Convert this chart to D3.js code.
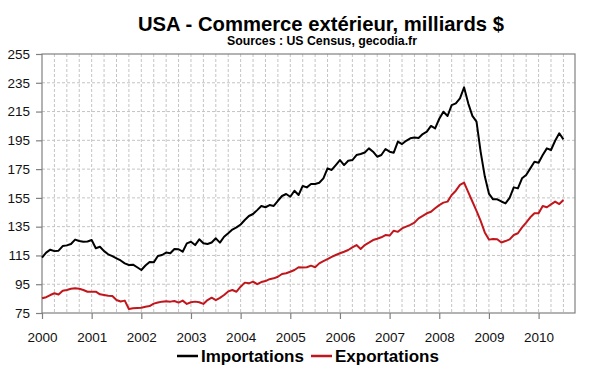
<!DOCTYPE html>
<html>
<head>
<meta charset="utf-8">
<script src="https://cdn.jsdelivr.net/npm/d3@7"></script>
<style>
body { margin: 0; background: #fff; }
svg { display: block; font-family: "Liberation Sans", Arial, sans-serif; }
</style>
</head>
<body>
<div id="chart"></div>
<script>
// monthly values, Jan 2000 .. Jul 2010 (billions $)
var importsData = [113.5, 117, 119, 118, 118.3, 121.5, 122, 123, 126, 125, 124.5, 124.7,
  125.7, 120, 121, 118, 115.8, 114.5, 113, 111.5, 109.5, 108.4, 108.6, 106.8,
  104.9, 108, 110.5, 110.2, 114.6, 115.3, 117, 116.5, 119.5, 119.3, 117.6, 123.4,
  124.5, 122.2, 126.2, 123.5, 123, 124, 126.9, 123.9, 128, 130.4, 133, 134.5,
  136.5, 139.6, 142.4, 143.8, 146.5, 149.4, 148.5, 150, 149.4, 153, 156.3, 157.7,
  155.8, 160, 157, 163.3, 162.3, 164.6, 164.6, 165.5, 168.6, 175.5, 174.4, 177.8,
  181.3, 177.8, 180.8, 181.3, 184.8, 185.5, 186.5, 189.4, 187.1, 183.6, 184.8, 189,
  187.1, 186.4, 194.1, 192.4, 194.7, 196.4, 197, 196.6, 199.4, 201, 205, 203.3,
  210, 214.9, 211.9, 219.5, 220.7, 224.2, 231.8, 220.7, 212, 208, 187, 170,
  158, 154, 154, 152.5, 151.2, 155, 162.3, 161.6, 168.6, 170.9, 175.5, 180.1,
  179.4, 184.8, 189.4, 188.3, 194.7, 199.9, 195.7];
var exportsData = [85.2, 86, 87.5, 88.7, 87.9, 90.5, 91, 91.8, 92.2, 91.8, 91, 89.8,
  89.8, 89.8, 88, 87.5, 87, 86.8, 84, 83, 83.6, 77.8, 78.3, 78.5,
  78.7, 79.4, 79.8, 81.5, 82.3, 82.9, 83.2, 82.9, 83.3, 82.2, 83.6, 81.3,
  82.5, 82.9, 82.5, 81.3, 84, 85.6, 84, 85.5, 87.5, 90, 91, 89.8,
  93.3, 96.1, 95.6, 96.8, 95, 96.5, 97.2, 98.5, 99.1, 100.2, 102.1, 102.6,
  103.7, 104.9, 106.8, 106.6, 106.8, 107.9, 106.8, 109.5, 111, 112.5, 114, 115.3,
  116.5, 117.6, 118.8, 120.6, 122.2, 119.5, 122.2, 123.9, 125.7, 126.6, 127.6, 129.2,
  128.8, 132.2, 131.4, 133.8, 135, 136.2, 137.8, 140.8, 142.5, 144.3, 145.4, 147.8,
  150, 151.7, 152.4, 157, 160, 164, 165.6, 159, 152.5, 146, 139, 131,
  126, 126.5, 126.2, 124, 125, 126.2, 129.2, 130.4, 134.5, 137.8, 141.5, 144.3,
  144.3, 149.4, 148.5, 150.5, 152.4, 150.7, 153.5];
var years = [2000, 2001, 2002, 2003, 2004, 2005, 2006, 2007, 2008, 2009, 2010];
var yTicks = [75, 95, 115, 135, 155, 175, 195, 215, 235, 255];
var seriesNames = ["Importations", "Exportations"];
var seriesColors = ["#000000", "#c0161c"];

var W = 600, H = 372;
var pL = 42, pR = 575, pT = 54, pB = 313;

var svg = d3.select("#chart").append("svg")
  .attr("width", W).attr("height", H);

var x = d3.scaleLinear().domain([0, 128.8]).range([pL, pR]);
var y = d3.scaleLinear().domain([75, 255]).range([pB, pT]);

// title
svg.append("text")
  .attr("x", 321).attr("y", 31)
  .attr("text-anchor", "middle")
  .attr("font-size", 21).attr("font-weight", "bold")
  .attr("textLength", 366).attr("lengthAdjust", "spacingAndGlyphs")
  .text("USA - Commerce extérieur, milliards $");
svg.append("text")
  .attr("x", 322).attr("y", 45)
  .attr("text-anchor", "middle")
  .attr("font-size", 12).attr("font-weight", "bold")
  .attr("textLength", 190).attr("lengthAdjust", "spacingAndGlyphs")
  .text("Sources : US Census, gecodia.fr");

// grid
var quarters = d3.range(3, 127, 3);
svg.append("g").selectAll("line")
  .data(quarters)
  .enter().append("line")
  .attr("x1", function(d) { return x(d); })
  .attr("x2", function(d) { return x(d); })
  .attr("y1", pT).attr("y2", pB)
  .attr("stroke", "#c4c4c4").attr("stroke-dasharray", "3,2");
svg.append("g").selectAll("line")
  .data(yTicks.slice(1, -1))
  .enter().append("line")
  .attr("x1", pL).attr("x2", pR)
  .attr("y1", function(d) { return y(d); })
  .attr("y2", function(d) { return y(d); })
  .attr("stroke", "#c4c4c4").attr("stroke-dasharray", "3,2");

svg.append("rect")
  .attr("x", pL).attr("y", pT)
  .attr("width", pR - pL).attr("height", pB - pT)
  .attr("fill", "none").attr("stroke", "#808080").attr("stroke-width", 1.2);

// axes
var yAxis = svg.append("g")
  .attr("transform", "translate(" + pL + ",0)")
  .call(d3.axisLeft(y).tickValues(yTicks).tickSize(6).tickPadding(6).tickFormat(d3.format("d")));
var xAxis = svg.append("g")
  .attr("transform", "translate(0," + pB + ")")
  .call(d3.axisBottom(x)
    .tickValues(years.map(function(d) { return (d - 2000) * 12; }))
    .tickSize(6).tickPadding(13)
    .tickFormat(function(d) { return 2000 + d / 12; }));
[xAxis, yAxis].forEach(function(a) {
  a.select(".domain").remove();
  a.selectAll("line").attr("stroke", "#808080").attr("stroke-width", 1.2);
  a.selectAll("text").attr("font-size", 13.5).attr("fill", "#111")
    .attr("font-family", "Liberation Sans, Arial, sans-serif");
});

// lines
var line = d3.line()
  .x(function(d, i) { return x(i); })
  .y(function(d) { return y(d); });
[importsData, exportsData].forEach(function(s, k) {
  svg.append("path")
    .datum(s)
    .attr("d", line)
    .attr("fill", "none")
    .attr("stroke", seriesColors[k])
    .attr("stroke-width", 2)
    .attr("stroke-linejoin", "round");
});

// legend
var lg = svg.append("g");
var lx = [177, 311];
seriesNames.forEach(function(n, k) {
  lg.append("line")
    .attr("x1", lx[k]).attr("x2", lx[k] + 21)
    .attr("y1", 356).attr("y2", 356)
    .attr("stroke", seriesColors[k]).attr("stroke-width", 2.5);
  lg.append("text")
    .attr("x", lx[k] + 24).attr("y", 362)
    .attr("font-size", 17).attr("font-weight", "bold")
    .text(n);
});
</script>
</body>
</html>
